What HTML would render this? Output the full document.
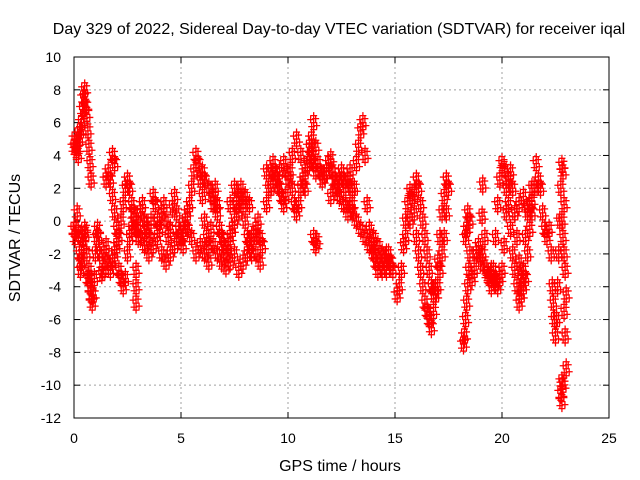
<!DOCTYPE html>
<html><head><meta charset="utf-8"><style>
body{margin:0;background:#fff}
svg{display:block;font-family:"Liberation Sans",sans-serif;font-size:13px}
</style></head><body>
<svg id="chart" width="640" height="480" xmlns="http://www.w3.org/2000/svg">
<rect width="640" height="480" fill="#fff"/>
<text x="339" y="34" text-anchor="middle" font-size="16">Day 329 of 2022, Sidereal Day-to-day VTEC variation (SDTVAR) for receiver iqal</text>
<g id="grid"></g>
<g id="axes"></g>
<g id="marks"></g>
<text x="340" y="471" text-anchor="middle" font-size="16">GPS time / hours</text>
<text x="0" y="0" transform="translate(20,238) rotate(-90)" text-anchor="middle" font-size="16">SDTVAR / TECUs</text>
</svg>
<script>
const xTicks=[0,5,10,15,20,25];
const yTicks=[10,8,6,4,2,0,-2,-4,-6,-8,-10,-12];
const times=[
0,0.05,0.1,0.15,0.2,0.25,0.3,0.35,0.4,0.45,0.5,0.55,0.6,0.65,0.7,0.75,0.8,
0,0.05,0.1,0.15,0.2,0.25,0.3,0.35,0.4,0.45,0.5,0.55,0.6,0.65,0.7,0.75,0.8,0.85,0.9,0.95,1.0,1.05,1.1,1.15,1.2,1.3,1.35,1.4,1.5,1.6,1.7,1.8,1.9,2.0,2.1,2.2,2.3,2.4,2.5,2.6,2.7,2.8,2.9,3.0,
1.5,1.6,1.7,1.8,1.9,2.0,2.1,2.2,2.3,2.4,2.5,2.6,2.7,2.8,1.8,1.9,
3.0,3.1,3.2,3.3,3.4,3.5,3.6,3.7,3.8,3.9,4.0,4.1,4.2,4.3,4.4,4.5,4.6,4.7,4.8,4.9,5.0,5.1,5.2,5.3,5.4,5.5,5.6,5.7,5.8,5.9,6.0,6.1,6.2,6.3,6.4,6.5,6.6,6.7,6.8,6.9,7.0,7.1,7.2,7.3,7.4,7.5,7.6,7.7,7.8,7.9,8.0,8.1,8.2,8.3,8.4,8.5,8.6,8.7,8.8,
3.1,3.3,3.5,3.7,3.9,4.1,4.3,4.5,4.7,4.9,5.1,5.3,5.5,5.7,5.9,6.1,6.3,6.5,6.7,6.9,7.1,7.3,7.5,7.7,7.9,8.1,8.3,8.5,8.7,
6.0,6.1,6.3,6.5,6.7,7.3,7.5,7.7,8.0,8.2,2.9,2.9,2.9,
9.0,9.1,9.2,9.3,9.4,9.5,9.6,9.7,9.8,9.9,10.0,10.1,10.2,10.3,10.4,10.5,10.6,10.7,10.8,10.9,11.0,11.1,11.2,11.3,11.4,11.5,11.6,11.7,11.8,11.9,12.0,12.1,12.2,12.3,12.4,12.5,12.6,12.7,12.8,12.9,13.0,
9.0,9.2,9.4,9.6,9.8,10.0,10.2,10.4,10.6,10.8,11.0,11.1,11.2,11.3,11.2,11.3,11.35,
12.0,12.2,12.4,12.6,12.8,13.0,13.1,13.2,13.3,13.4,13.5,13.6,13.7,13.8,13.9,14.0,14.1,14.2,14.3,14.4,14.5,14.6,14.7,14.8,14.9,
12.9,13.0,13.2,13.4,13.6,13.8,14.0,14.2,14.4,14.6,
15.1,15.2,15.3,15.4,15.5,15.6,15.7,15.8,15.9,16.0,16.1,16.2,16.3,16.4,16.5,16.6,16.7,16.8,16.9,17.0,17.1,17.2,17.3,17.4,17.5,
15.5,15.7,15.9,16.0,16.1,16.2,16.3,16.4,16.5,16.6,16.7,16.8,16.9,17.0,17.1,17.2,17.3,17.4,
18.2,18.25,18.3,18.35,18.4,18.45,18.5,18.6,18.7,18.8,18.9,19.0,19.1,19.2,19.3,19.4,19.5,19.6,19.7,19.8,19.9,20.0,20.1,20.2,20.3,20.4,20.5,20.6,20.7,20.8,20.9,21.0,21.1,21.2,21.3,21.4,21.5,21.6,
18.3,18.35,18.4,18.5,19.07,19.1,19.2,
19.5,19.6,19.7,19.8,19.9,20.0,20.1,20.2,20.3,20.4,20.5,20.6,20.7,20.8,20.9,21.0,21.1,21.2,21.3,21.4,
20.6,20.8,21.0,21.2,21.4,
21.7,21.8,21.9,22.0,22.1,22.2,22.3,22.35,22.4,22.45,22.5,22.55,22.6,22.65,22.7,22.75,22.8,22.85,22.9,
22.8,22.85,22.9,22.95,23.0,22.9,22.95,23.0,22.75,22.8,22.85,22.8
];
const values=[
4.5,5,4.3,4.8,4,5,5.5,6,6.8,7.5,8,7,6.5,5.5,4.5,3.5,2.5,
-0.5,-1,-0.5,0.5,-0.8,-2,-3,-2.5,-1,-1.5,-0.5,-0.8,-2,-3.5,-3,-4,-4.5,-5,-4.5,-3.5,-2,-1,-0.5,-1,-2,-3.2,-3,-2,-1.5,-2.5,-3,-2.5,-2,-1.5,-3,-3.5,-4,-3.5,-2,-1,-0.5,0,-0.5,-1,
2.5,3,2.5,1.5,0.5,-0.5,-1,0,1,2,2.5,2,1,0.5,4,3.5,
-0.5,0.5,1,0,-0.5,-1,0,1.5,1,0,-0.5,0.5,1,0,-1,-0.5,0.8,1.5,0.5,-0.5,-1,-0.5,0,0.5,1,2,3,4,3.5,2.5,1.5,0,-1,-1.5,-0.5,1,2,1,-0.5,-1,-1.5,-2,-1.5,-1,-0.5,0,1,1.5,2,1,0,-1,-1.5,-2,-1,-0.5,0,-1,-1.5,
-1,-1.5,-2,-1.5,-1,-2,-2.5,-2,-1.5,-1,-1.5,-0.5,-1,-2,-1.5,-2,-2.5,-1.5,-2,-2.5,-2.8,-2.5,-2,-3,-2.5,-2,-1,-2,-2.5,
3,2.5,2,1.5,0.5,1,2,0.5,1.5,1,-3,-4,-5,
1,2,3,3.5,3,2.5,2,1.5,1,1.5,2.5,3,2,1,0.5,1,2,2.5,3,3.5,3.5,4,3.5,3,3.5,3,2.5,2.8,3,3.5,3.8,3,2.5,2,2.5,3,2.5,2,2.5,3,2,
3,2,2.5,3,3.5,3,4,5,4,2,4.5,5,6,4.5,-1,-1.5,-1.2,
1.5,2,1.5,1,0.5,1,2,3.5,4.5,5.5,6,4,1,-0.5,-1.5,-2,-2.5,-3,-2.5,-3,-2.5,-3,-2,-2.5,-3,
1,0.5,0,-0.5,-1,-1.5,-1,-1.5,-2,-2,
-4.5,-4,-3,-1.5,0,1,1.8,1.5,0.5,-1,-2,-3,-4,-5,-5.5,-6,-6.5,-5.5,-4,-2.5,-1,0.5,1.5,2.5,2,
-1,0,1.5,2.5,2,1,0,-1,-2,-3,-4,-4.5,-4.5,-4,-3,-2,-1,0.5,
-7.5,-7,-6,-5,-4,-3,-2,-3.5,-3,-2,-1.5,-2.5,-2,-2.8,-3.2,-3.5,-3,-3.5,-3.8,-4,-3.5,-3,-1.5,0.5,2.5,3,2,0.5,-1,-2.5,-3.5,-4,-3.5,-2,-0.5,0.5,2,3.5,
-1,-0.5,0.5,0,0.3,2.2,-1,
-4,-3,-1,1,2.5,3.5,3.2,2,1,-0.5,-2,-3,-4,-5,-4.5,-3,-1,0.5,1,2,
0.5,1,1.5,0.8,1.2,
2.5,2,0.5,-0.5,-1,-0.5,-2,-4,-5,-6,-7,-6,-4,-2,0,2,3.4,3,1,
0,-1,-2,-3,-4.5,-5.5,-7,-9,-10.5,-11,-10,-9.8
];
const X0=74,X1=609,Y0=418,Y1=57;
const xs=t=>X0+(t-0)/(25-0)*(X1-X0);
const ys=v=>Y0-(v+12)/(22)*(Y0-Y1);
const NS="http://www.w3.org/2000/svg";
function mk(tag,attrs,parent){const e=document.createElementNS(NS,tag);for(const k in attrs)e.setAttribute(k,attrs[k]);parent.appendChild(e);return e;}
const grid=document.getElementById('grid'),axes=document.getElementById('axes'),marks=document.getElementById('marks');
xTicks.forEach(t=>{
 const x=xs(t);
 if(t>0&&t<25){const g=mk('line',{x1:x,x2:x,y1:Y1,y2:Y0,stroke:'#a0a0a0','stroke-dasharray':'2,3'},grid);
 
 }
 mk('line',{x1:x,x2:x,y1:Y0,y2:Y0-6,stroke:'#000'},axes);
 mk('line',{x1:x,x2:x,y1:Y1,y2:Y1+6,stroke:'#000'},axes);
 const l=mk('text',{x:x,y:443,'text-anchor':'middle','font-size':'14'},axes);
 l.textContent=t;
 
 
});
yTicks.forEach(v=>{
 const y=ys(v);
 if(v<10&&v>-12){const g=mk('line',{x1:X0,x2:X1,y1:y,y2:y,stroke:'#a0a0a0','stroke-dasharray':'2,3'},grid);
 
 }
 mk('line',{x1:X0,x2:X0+6,y1:y,y2:y,stroke:'#000'},axes);
 mk('line',{x1:X1,x2:X1-6,y1:y,y2:y,stroke:'#000'},axes);
 const l=mk('text',{x:61,y:y+5,'text-anchor':'end','font-size':'14'},axes);
 l.textContent=v;
 
 
});
const fr=mk('rect',{x:X0,y:Y1,width:X1-X0,height:Y0-Y1,fill:'none',stroke:'#000'},axes);


// each sample drawn as a small cluster of "+" glyphs to mimic dense gnuplot output
const cluster=[[0,0],[-3,-3],[3,3],[-2,4],[2,-4],[0,7],[0,-7]];
for(let i=0;i<times.length;i++){
 const x=xs(times[i]),y=ys(values[i]);
 let d='';
 cluster.forEach(([dx,dy])=>{const cx=x+dx,cy=y+dy;d+=`M${cx-3.5},${cy}H${cx+3.5}M${cx},${cy-3.5}V${cy+3.5}`;});
 const p=mk('path',{d:d,stroke:'#ff0000','stroke-width':'1.3',fill:'none'},marks);
 
 
}
</script>
</body></html>
